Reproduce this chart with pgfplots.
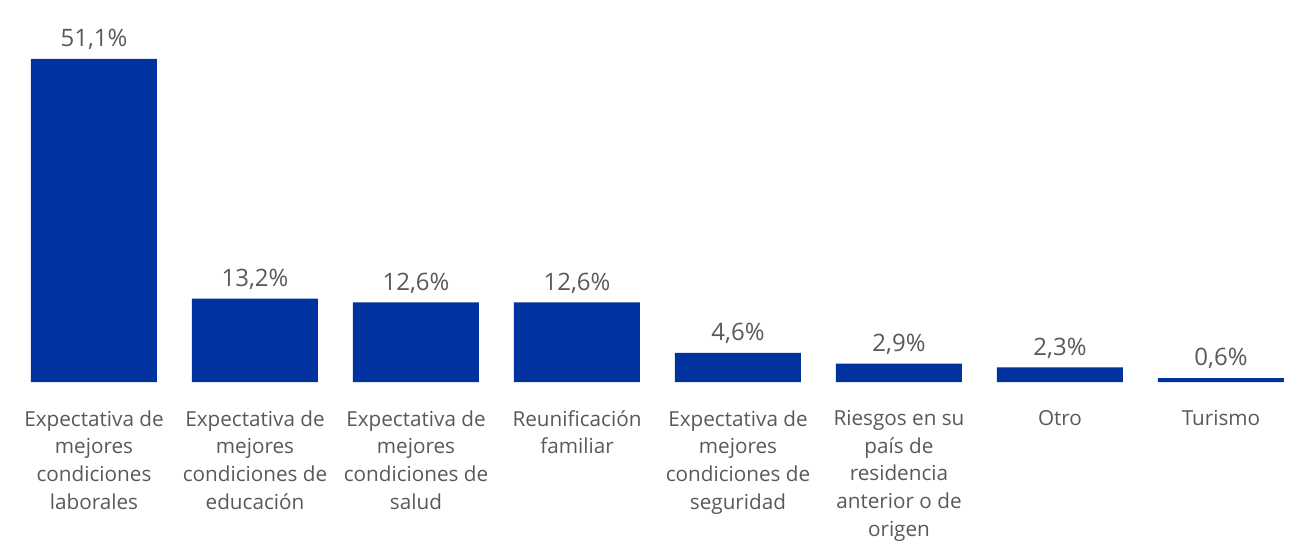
\documentclass[border=0pt]{standalone}
\usepackage{pgfplots}
\pgfplotsset{compat=1.18}
\usepackage{fontspec}
\setmainfont{Open Sans}
\definecolor{barblue}{HTML}{0033A0}
\definecolor{txtgray}{HTML}{595959}

\begin{document}
\begin{tikzpicture}
\useasboundingbox (0,0) rectangle (1301pt,542pt);
\begin{axis}[
  at={(13.5pt,160pt)}, anchor=south west,
  scale only axis, width=1288pt, height=323pt,
  xmin=-0.5, xmax=7.5, ymin=0, ymax=51.1,
  axis lines=none, clip=false,
  ybar, bar width=126pt,
  /pgf/number format/assume math mode=true,
  nodes near coords={\pgfmathprintnumber[use comma,fixed,fixed zerofill,precision=1]{\pgfplotspointmeta}\%},
  every node near coord/.style={font=\fontsize{24}{28}\selectfont, text=txtgray, inner sep=9pt},
]
\addplot[fill=barblue, draw=none] coordinates {
  (0,51.1) (1,13.2) (2,12.6) (3,12.6) (4,4.6) (5,2.9) (6,2.3) (7,0.6)};
\end{axis}
% category labels drawn through axis coordinates
\begin{axis}[
  at={(13.5pt,160pt)}, anchor=south west,
  scale only axis, width=1288pt, height=323pt,
  xmin=-0.5, xmax=7.5, ymin=0, ymax=51.1,
  axis x line=bottom, axis y line=none, x axis line style={draw=none},
  xtick={0,...,7}, major tick length=0pt,
  xticklabel style={font=\fontsize{20.7}{27.6}\selectfont, text=txtgray, align=center, anchor=north, yshift=-25pt},
  xticklabels={
    {Expectativa de\\mejores\\condiciones\\laborales},
    {Expectativa de\\mejores\\condiciones de\\educación},
    {Expectativa de\\mejores\\condiciones de\\salud},
    {Reunificación\\familiar},
    {Expectativa de\\mejores\\condiciones de\\seguridad},
    {Riesgos en su\\país de\\residencia\\anterior o de\\origen},
    {Otro},
    {Turismo}},
]
\addplot[draw=none] coordinates {(0,0) (7,0)};
\end{axis}
\end{tikzpicture}
\end{document}
